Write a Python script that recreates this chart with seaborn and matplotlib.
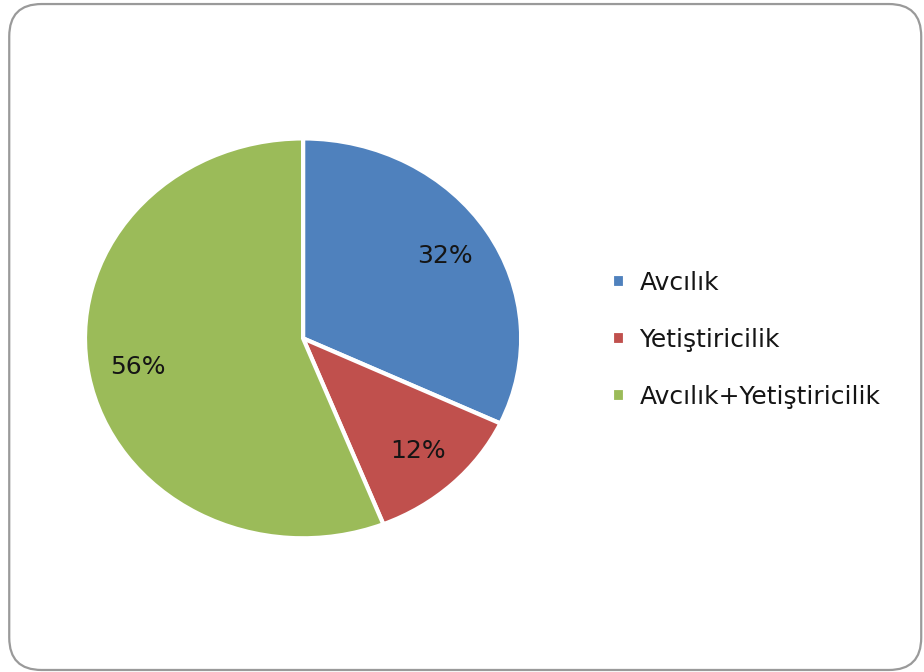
import matplotlib
matplotlib.use("Agg")
import matplotlib.pyplot as plt
import seaborn as sns
from matplotlib.patches import FancyBboxPatch

categories = ["Avcılık", "Yetiştiricilik", "Avcılık+Yetiştiricilik"]
shares = [32, 12, 56]
colors = ["#4F81BD", "#C0504D", "#9BBB59"]

sns.set_theme(style="white")
plt.rcParams['font.family'] = ['DejaVu Sans']

fig = plt.figure(figsize=(9.24, 6.72), dpi=100)

# rounded frame around the chart area
frame = FancyBboxPatch((0.010, 0.003), 0.987, 0.991,
                       boxstyle="round,pad=0,rounding_size=0.035",
                       transform=fig.transFigure, facecolor="none",
                       edgecolor="#9a9a9a", linewidth=1.6,
                       mutation_aspect=924/672, zorder=0)
fig.patches.append(frame)

ax = fig.add_axes([0.092, 0.199, 0.472, 0.595])
wedges, texts, autotexts = ax.pie(
    shares, colors=colors, startangle=90, counterclock=False,
    autopct=lambda p: f"{p:.0f}%", pctdistance=0.77,
    wedgeprops=dict(edgecolor="white", linewidth=3),
    textprops=dict(fontsize=18, color="#151515"))
ax.set_aspect("auto")
ax.set_xlim(-1.0, 1.0)
ax.set_ylim(-1.0, 1.0)
ax.axis("off")

fig.legend(wedges, categories, loc="center left", bbox_to_anchor=(0.638, 0.494),
           frameon=False, fontsize=18, handlelength=0.5, handleheight=0.5,
           handletextpad=0.6, labelspacing=1.32, labelcolor="#151515")

fig.savefig("out.png", dpi=100)
